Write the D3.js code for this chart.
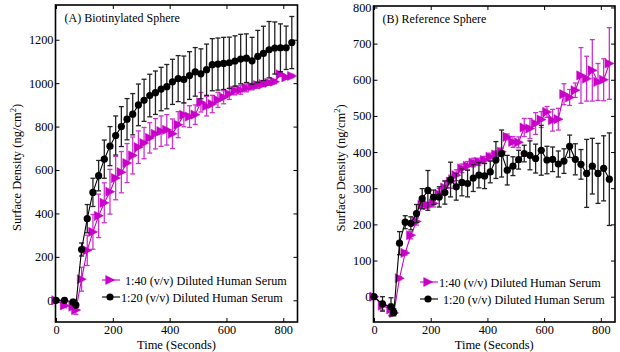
<!DOCTYPE html>
<html>
<head>
<meta charset="utf-8">
<script src="https://cdn.jsdelivr.net/npm/d3@7"></script>
<style>
	body { margin: 0; background: #fff; }
	svg { display: block; font-family: "Liberation Serif", "Times New Roman", serif; }
	.axis path { display: none; }
	.axis line { stroke: #000; }
	.axis text { font-size: 12.3px; fill: #000; font-family: "Liberation Serif", "Times New Roman", serif; }
</style>
</head>
<body>
<svg id="chart" width="620" height="352"></svg>
<script>
// sample times (s), shared by all four series
const seconds = [0, 30, 60, 70, 90, 110, 130, 150, 170, 190, 210, 230, 250, 270, 290, 310, 330, 350, 370, 390,
	410, 430, 450, 470, 490, 510, 530, 550, 570, 590, 610, 630, 650, 670, 690, 710, 730, 750, 770, 790, 810, 830]

// (A) biotinylated sphere
const biotin40 = [0, -24, -29, -45, 97, 230, 315, 389, 449, 500, 563, 590, 632, 667, 705, 724, 748, 767, 779, 785,
	767, 809, 854, 846, 855, 912, 894, 904, 923, 935, 950, 966, 969, 978, 984, 991, 996, 1002, 1007, 1041, 1027, 1033]
const biotin40Err = [8, 10, 12, 20, 55, 70, 80, 100, 92, 103, 100, 95, 90, 85, 75, 72, 70, 70, 70, 70,
	68, 60, 55, 50, 45, 45, 45, 40, 35, 30, 25, 20, 20, 18, 15, 15, 12, 12, 10, 10, 8, 8]
const biotin20 = [0, 0, -8, -22, 234, 376, 497, 574, 650, 710, 759, 800, 834, 857, 900, 921, 943, 956, 973, 984,
	1006, 1021, 1017, 1035, 1052, 1043, 1062, 1085, 1088, 1091, 1094, 1102, 1111, 1115, 1103, 1123, 1137, 1154, 1162, 1163, 1163, 1187]
const biotin20Err = [8, 10, 12, 10, 30, 65, 65, 70, 88, 90, 90, 92, 95, 95, 96, 97, 98, 100, 100, 102,
	104, 106, 108, 110, 112, 115, 118, 120, 120, 120, 118, 116, 114, 112, 108, 120, 125, 130, 120, 110, 100, 120]

// (B) reference sphere
const ref40 = [0, -25, -35, -45, 51, 121, 170, 208, 254, 253, 258, 284, 302, 318, 336, 355, 362, 371, 373, 378,
	387, 393, 401, 442, 428, 427, 468, 465, 479, 490, 511, 488, 491, 560, 551, 571, 612, 603, 626, 594, 600, 645]
const ref40Err = [5, 12, 15, 5, 4, 6, 10, 10, 10, 8, 10, 15, 18, 18, 15, 12, 12, 12, 10, 10,
	10, 10, 10, 8, 15, 15, 25, 28, 30, 22, 15, 30, 30, 29, 22, 20, 77, 62, 85, 51, 58, 99]
const ref20 = [0, -20, -28, -43, 148, 206, 203, 230, 271, 294, 275, 276, 288, 324, 304, 316, 313, 328, 336, 334,
	345, 378, 396, 350, 361, 379, 396, 391, 382, 405, 378, 380, 367, 375, 416, 380, 366, 341, 361, 341, 355, 325]
const ref20Err = [5, 20, 25, 10, 32, 18, 18, 25, 28, 55, 20, 28, 32, 48, 37, 37, 37, 37, 35, 35,
	30, 51, 65, 41, 26, 26, 23, 40, 40, 69, 38, 34, 36, 34, 31, 43, 41, 94, 77, 83, 90, 128]

const xTicks = [0, 200, 400, 600, 800]
const yTicksA = [0, 200, 400, 600, 800, 1000, 1200]
const yTicksB = [0, 100, 200, 300, 400, 500, 600, 700, 800]
const legendLabels = ["1:40 (v/v) Diluted Human Serum", "1:20 (v/v) Diluted Human Serum"]

const magenta = "#c800c8"
const black = "#000"

const svg = d3.select("#chart")
svg.append("rect").attr("width", 620).attr("height", 352).attr("fill", "#fff")

const panels = [
	{
		title: "(A) Biotinylated Sphere",
		left: 55.5, right: 297.5, top: 5, bottom: 322,
		yDomain: [-100, 1360], yTicks: yTicksA,
		series: [
			{values: biotin40, err: biotin40Err, color: magenta, barColor: "#cc33cc", marker: "tri"},
			{values: biotin20, err: biotin20Err, color: black, barColor: "#222", marker: "dot"},
		],
		legendX: 102, legendY: 280, textX: [125, 121],
		labelX: 21,
	},
	{
		title: "(B) Reference Sphere",
		left: 373.5, right: 615, top: 6, bottom: 322,
		yDomain: [-70, 804], yTicks: yTicksB,
		series: [
			{values: ref40, err: ref40Err, color: magenta, barColor: "#cc33cc", marker: "tri"},
			{values: ref20, err: ref20Err, color: black, barColor: "#222", marker: "dot"},
		],
		legendX: 420, legendY: 282, textX: [439, 443],
		labelX: 345,
	},
]

const triPath = "M-4.3,-4.6L4.8,0L-4.3,4.6Z"
const fmt = d3.format("d")

function drawMarker(sel, kind, color) {
	if (kind === "tri") {
		sel.append("path").attr("d", triPath).attr("fill", color).attr("stroke", color).attr("stroke-width", 0.5)
	} else {
		sel.append("circle").attr("r", 3.6).attr("fill", color)
	}
}

panels.forEach(p => {
	const x = d3.scaleLinear().domain([0, 850]).range([p.left + 0.5, p.right])
	const y = d3.scaleLinear().domain(p.yDomain).range([p.bottom, p.top])
	const g = svg.append("g")

	// axes, ticks inward on all four sides
	g.append("g").attr("class", "axis")
		.attr("transform", "translate(0," + p.bottom + ")")
		.call(d3.axisBottom(x).tickValues(xTicks).tickFormat(fmt).tickSizeInner(-4).tickSizeOuter(0).tickPadding(3))
	g.append("g").attr("class", "axis")
		.attr("transform", "translate(0," + p.top + ")")
		.call(d3.axisTop(x).tickValues(xTicks).tickSizeInner(-4).tickSizeOuter(0).tickFormat(""))
	g.append("g").attr("class", "axis")
		.attr("transform", "translate(" + p.left + ",0)")
		.call(d3.axisLeft(y).tickValues(p.yTicks).tickFormat(fmt).tickSizeInner(-4).tickSizeOuter(0).tickPadding(2))
	g.append("g").attr("class", "axis")
		.attr("transform", "translate(" + p.right + ",0)")
		.call(d3.axisRight(y).tickValues(p.yTicks).tickSizeInner(-4).tickSizeOuter(0).tickFormat(""))

	// series
	p.series.forEach(s => {
		const pts = seconds.map((t, i) => ({t: t, v: s.values[i], e: s.err[i]}))
		const bars = g.append("g").attr("stroke", s.barColor).attr("stroke-width", 1.3)
		pts.forEach(d => {
			const x0 = x(d.t), yHi = y(d.v + d.e), yLo = y(d.v - d.e)
			bars.append("line").attr("x1", x0).attr("x2", x0).attr("y1", yHi).attr("y2", yLo)
			bars.append("line").attr("x1", x0 - 2.5).attr("x2", x0 + 2.5).attr("y1", yHi).attr("y2", yHi)
			bars.append("line").attr("x1", x0 - 2.5).attr("x2", x0 + 2.5).attr("y1", yLo).attr("y2", yLo)
		})
		const line = d3.line().x(d => x(d.t)).y(d => y(d.v))
		g.append("path").datum(pts)
			.attr("fill", "none").attr("stroke", s.color).attr("stroke-width", 1.1)
			.attr("d", line)
		g.selectAll(null).data(pts).enter().append("g")
			.attr("transform", d => "translate(" + x(d.t) + "," + y(d.v) + ")")
			.each(function() { drawMarker(d3.select(this), s.marker, s.color) })
	})

	// frame
	g.append("rect")
		.attr("x", p.left).attr("y", p.top)
		.attr("width", p.right - p.left).attr("height", p.bottom - p.top)
		.attr("fill", "none").attr("stroke", "#000").attr("stroke-width", 1.6)

	// title inside plot
	g.append("text").attr("x", p.left + 9).attr("y", p.top + 17)
		.attr("font-size", 12).text(p.title)

	// legend
	p.series.forEach((s, i) => {
		const ly = p.legendY + i * 17
		g.append("line").attr("x1", p.legendX).attr("x2", p.legendX + 18)
			.attr("y1", ly).attr("y2", ly).attr("stroke", s.color).attr("stroke-width", 1.1)
		const m = g.append("g").attr("transform", "translate(" + (p.legendX + 8) + "," + ly + ")")
		drawMarker(m, s.marker, s.color)
		g.append("text").attr("x", p.textX[i]).attr("y", ly + 4.5)
			.attr("font-size", 12.2).text(legendLabels[i])
	})

	// axis titles
	g.append("text").attr("x", (p.left + p.right) / 2).attr("y", 349)
		.attr("text-anchor", "middle").attr("font-size", 12.5).text("Time (Seconds)")
	const yl = g.append("text")
		.attr("transform", "translate(" + p.labelX + "," + ((p.top + p.bottom) / 2 + 4) + ") rotate(-90)")
		.attr("text-anchor", "middle").attr("font-size", 12.5)
	yl.append("tspan").text("Surface Density (ng/cm")
	yl.append("tspan").attr("font-size", 8.5).attr("dy", -5).text("2")
	yl.append("tspan").attr("dy", 5).text(")")
})
</script>
</body>
</html>
